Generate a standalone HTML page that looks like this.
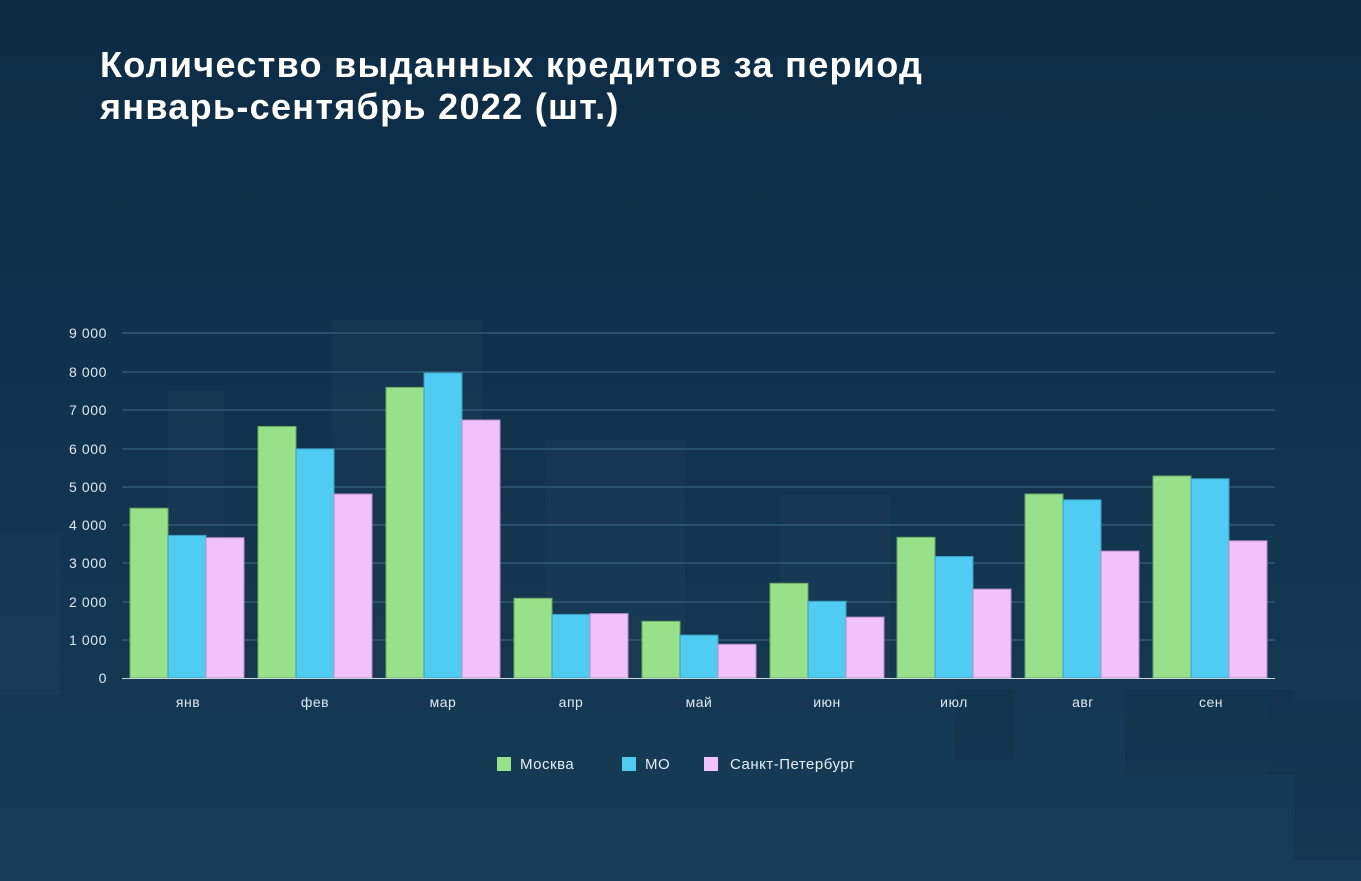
<!DOCTYPE html>
<html><head><meta charset="utf-8"><style>
body{margin:0;width:1361px;height:881px;overflow:hidden;background:linear-gradient(180deg,#0e2c44 0%,#123550 60%,#163c56 100%);font-family:"Liberation Sans",sans-serif;}
svg{position:absolute;left:0;top:0}
.t{position:absolute;left:100px;top:44px;color:#fff;font-weight:bold;font-size:36px;line-height:42px;letter-spacing:1.3px}
</style></head><body>
<svg width="1361" height="881">
<g fill="#ffffff" opacity="0.02">
<rect x="168" y="390" width="56" height="290"/><rect x="332" y="320" width="150" height="360"/><rect x="545" y="440" width="140" height="240"/><rect x="780" y="495" width="110" height="185"/>
<rect x="0" y="535" width="60" height="160"/>
</g>
<g fill="#000" opacity="0.05"><rect x="1125" y="690" width="170" height="85"/><rect x="1295" y="700" width="66" height="160"/><rect x="955" y="690" width="60" height="70"/></g>
<g stroke="#3f6b85" stroke-width="1">
<line x1="122" x2="1275" y1="333" y2="333"/><line x1="122" x2="1275" y1="372" y2="372"/><line x1="122" x2="1275" y1="410" y2="410"/><line x1="122" x2="1275" y1="449" y2="449"/><line x1="122" x2="1275" y1="487" y2="487"/><line x1="122" x2="1275" y1="525" y2="525"/><line x1="122" x2="1275" y1="563" y2="563"/><line x1="122" x2="1275" y1="602" y2="602"/><line x1="122" x2="1275" y1="640" y2="640"/>
</g>
<g font-size="14" fill="#dfe8ee" text-anchor="end" letter-spacing="0.6">
<text x="107" y="338">9 000</text><text x="107" y="377">8 000</text><text x="107" y="415">7 000</text><text x="107" y="454">6 000</text><text x="107" y="492">5 000</text><text x="107" y="530">4 000</text><text x="107" y="568">3 000</text><text x="107" y="607">2 000</text><text x="107" y="645">1 000</text><text x="107" y="683">0</text>
</g>
<g fill="#98e08a" stroke="#6aa860" stroke-width="1">
<rect x="130" y="508.2" width="38" height="169.8"/><rect x="258" y="426.5" width="38" height="251.5"/><rect x="386" y="387.4" width="38" height="290.6"/><rect x="514" y="598.3" width="38" height="79.7"/><rect x="642" y="621.3" width="38" height="56.7"/><rect x="770" y="583.3" width="38" height="94.7"/><rect x="897" y="537.3" width="38" height="140.7"/><rect x="1025" y="494" width="38" height="184"/><rect x="1153" y="476" width="38" height="202"/>
</g>
<g fill="#50cbf2" stroke="#3a9ec4" stroke-width="1">
<rect x="168" y="535.4" width="38" height="142.6"/><rect x="296" y="448.8" width="38" height="229.2"/><rect x="424" y="372.9" width="38" height="305.1"/><rect x="552" y="614.4" width="38" height="63.6"/><rect x="680" y="635.1" width="38" height="42.9"/><rect x="808" y="601.3" width="38" height="76.7"/><rect x="935" y="556.5" width="38" height="121.5"/><rect x="1063" y="499.8" width="38" height="178.2"/><rect x="1191" y="478.7" width="38" height="199.3"/>
</g>
<g fill="#f1c1fc" stroke="#b98cc8" stroke-width="1">
<rect x="206" y="537.7" width="38" height="140.3"/><rect x="334" y="494" width="38" height="184"/><rect x="462" y="420" width="38" height="258"/><rect x="590" y="613.6" width="38" height="64.4"/><rect x="718" y="644.3" width="38" height="33.7"/><rect x="846" y="617.1" width="38" height="60.9"/><rect x="973" y="589.1" width="38" height="88.9"/><rect x="1101" y="551.1" width="38" height="126.9"/><rect x="1229" y="540.8" width="38" height="137.2"/>
</g>
<line x1="122" x2="1275" y1="678.5" y2="678.5" stroke="#c9d6de" stroke-width="1"/>
<g font-size="14" fill="#dfe8ee" text-anchor="middle" letter-spacing="0.5">
<text x="188" y="707">янв</text><text x="315" y="707">фев</text><text x="443" y="707">мар</text><text x="571" y="707">апр</text><text x="699" y="707">май</text><text x="827" y="707">июн</text><text x="954" y="707">июл</text><text x="1083" y="707">авг</text><text x="1211" y="707">сен</text>
</g>
<g font-size="15" fill="#e6eef3" letter-spacing="0.5">
<rect x="497" y="757" width="14" height="14" fill="#98e08a"/><text x="520" y="769">Москва</text>
<rect x="622" y="757" width="14" height="14" fill="#50cbf2"/><text x="645" y="769">МО</text>
<rect x="704" y="757" width="14" height="14" fill="#f1c1fc"/><text x="730" y="769">Санкт-Петербург</text>
</g>
</svg>
<div class="t">Количество выданных кредитов за период<br>январь-сентябрь 2022 (шт.)</div>
</body></html>
